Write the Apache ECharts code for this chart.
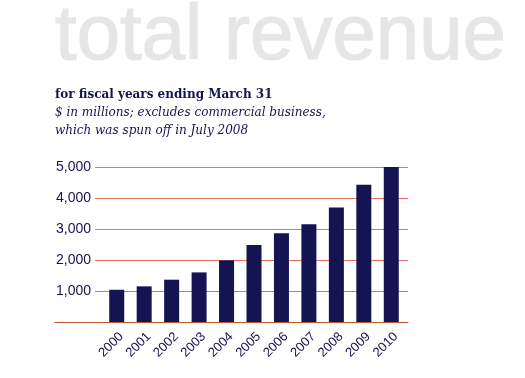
<!DOCTYPE html>
<html><head><meta charset="utf-8">
<script src="https://cdn.jsdelivr.net/npm/echarts@6/dist/echarts.min.js"></script>
<style>html,body{margin:0;padding:0;background:#fff}#c{width:525px;height:378px}</style>
</head><body><div id="c"></div>
<script>
const years = ['2000','2001','2002','2003','2004','2005','2006','2007','2008','2009','2010'];
const revenue = [1040, 1150, 1365, 1600, 1990, 2480, 2860, 3150, 3690, 4430, 5000];
const yTicks = [0, 1000, 2000, 3000, 4000, 5000];
const titleText = 'total revenue';
const subtitle = 'for fiscal years ending March 31';
const note1 = '$ in millions; excludes commercial business,';
const note2 = 'which was spun off in July 2008';

const navy = '#141452';
const chart = echarts.init(document.getElementById('c'), null, {renderer: 'canvas'});
const yMin = yTicks[0], yMax = yTicks[yTicks.length - 1], yStep = yTicks[1] - yTicks[0];
chart.setOption({
  animation: false,
  title: [
    {text: titleText, left: 55, top: -2, padding: 0, textStyle: {fontFamily: 'Liberation Sans', fontSize: 78, fontWeight: 'normal', color: '#e6e6e6', textBorderColor: '#e6e6e6', textBorderWidth: 1.2}},
    {text: subtitle, left: 55, top: 89, padding: 0, textStyle: {fontFamily: 'DejaVu Serif', fontSize: 12, fontWeight: 'bold', color: navy}},
    {text: note1 + '\n' + note2, left: 55, top: 104, padding: 0, textStyle: {fontFamily: 'DejaVu Serif', fontSize: 12, fontStyle: 'italic', fontWeight: 'normal', color: navy, lineHeight: 18}}
  ],
  grid: [
    {left: 95, right: 117, top: 167, bottom: 56},
    {left: 103, right: 120, top: 167, bottom: 56},
    {left: 55, right: 117, top: 167, bottom: 56}
  ],
  xAxis: [
    {gridIndex: 0, type: 'category', data: years, show: false},
    {gridIndex: 1, type: 'category', data: years, axisLine: {show: false}, axisTick: {show: false},
     axisLabel: {rotate: 45, interval: 0, color: navy, fontFamily: 'Liberation Sans', fontSize: 13, margin: 8, verticalAlign: 'top'}},
    {gridIndex: 2, type: 'category', data: years, axisLine: {show: true, lineStyle: {color: '#c4532e', width: 1}}, axisTick: {show: false}, axisLabel: {show: false}}
  ],
  yAxis: [
    {gridIndex: 0, type: 'value', min: yMin, max: yMax, interval: yStep,
     axisLine: {show: false}, axisTick: {show: false},
     splitLine: {show: true, lineStyle: {color: '#e8705c', width: 1}},
     axisLabel: {color: navy, fontFamily: 'Liberation Sans', fontSize: 14, margin: 4,
       formatter: v => v === 0 ? '' : v.toLocaleString('en-US')}},
    {gridIndex: 1, type: 'value', min: yMin, max: yMax, interval: yStep, show: false, splitLine: {show: false}},
    {gridIndex: 2, type: 'value', min: yMin, max: yMax, interval: yStep, show: false, splitLine: {show: false}}
  ],
  series: [
    {type: 'bar', xAxisIndex: 1, yAxisIndex: 1, data: revenue, barWidth: 15, itemStyle: {color: navy}}
  ]
});
</script></body></html>
